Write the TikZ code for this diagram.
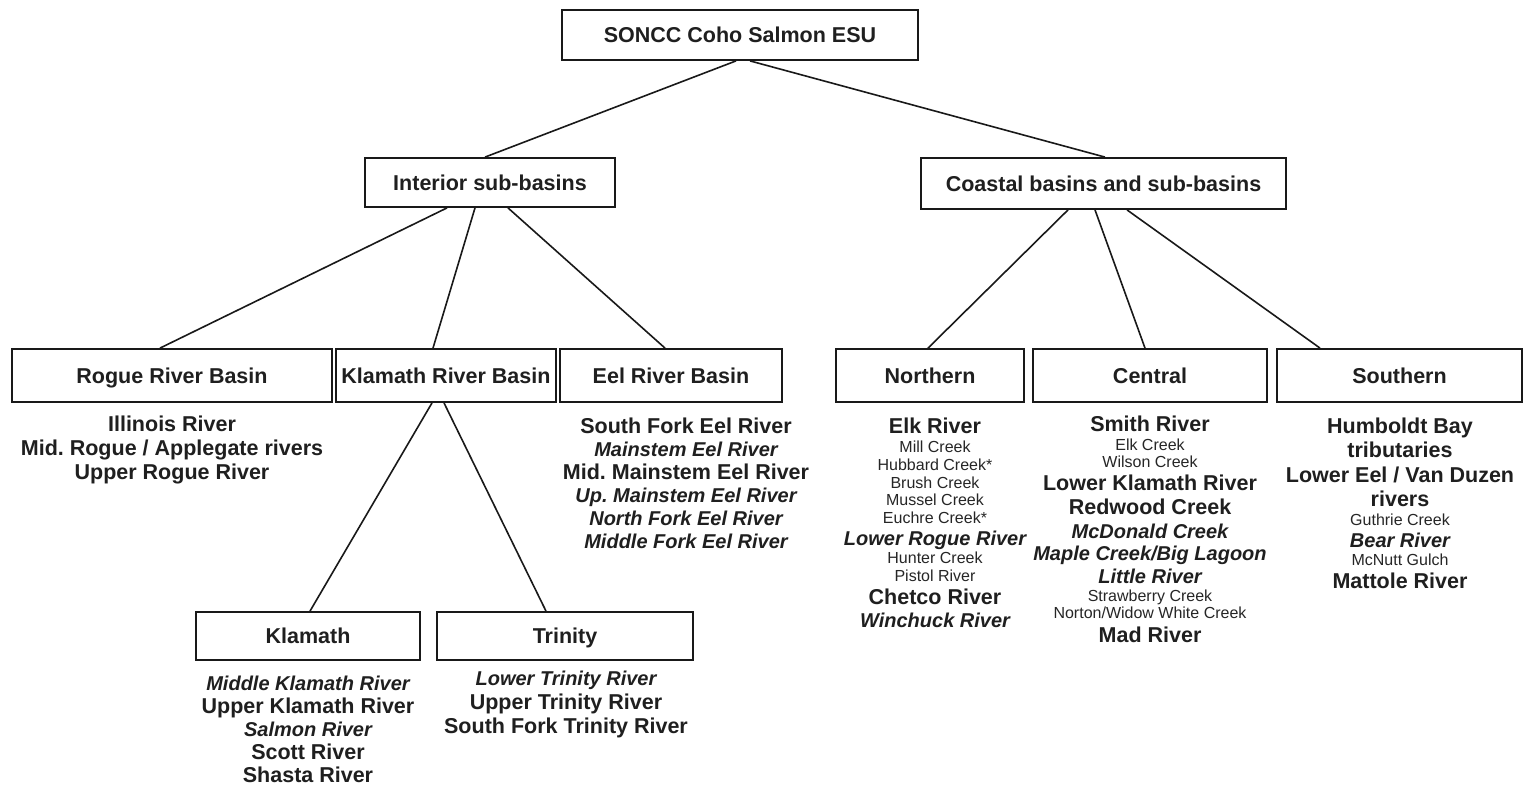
\documentclass[tikz,border=0pt]{standalone}
\usepackage{fontspec}
\setmainfont{Liberation Sans}
\frenchspacing
\begin{document}
\frenchspacing
\begin{tikzpicture}[x=1pt,y=-1pt,
  box/.style={draw=black!90, line width=1.8pt, inner sep=0pt, text=black!88,
    text height=15.4pt, text depth=0pt,
    font=\fontsize{21.5}{24}\selectfont\bfseries},
  conn/.style={draw=black!90, line width=1.6pt},
  big/.style={inner sep=0pt, text=black!88, text height=15.4pt, text depth=0pt,
    font=\fontsize{21.5}{24}\selectfont\bfseries},
  ita/.style={inner sep=0pt, text=black!88, text height=14.3pt, text depth=0pt,
    font=\fontsize{20}{24}\selectfont\bfseries\itshape},
  sm/.style={inner sep=0pt, text=black!85, text height=11.5pt, text depth=0pt,
    font=\fontsize{16}{18}\selectfont}]
\useasboundingbox[fill=white] (0,0) rectangle (1528,788);

% boxes
\node[box, minimum width=356pt, minimum height=50pt] (top) at (740,35) {SONCC Coho Salmon ESU};
\node[box, minimum width=250pt, minimum height=49pt] (int) at (490,182.5) {Interior sub-basins};
\node[box, minimum width=365pt, minimum height=51pt] (coast) at (1103.5,183.5) {Coastal basins and sub-basins};
\node[box, minimum width=320pt, minimum height=53pt] (rogue) at (172,375.5) {Rogue River Basin};
\node[box, minimum width=220pt, minimum height=53pt] (krb) at (446,375.5) {Klamath River Basin};
\node[box, minimum width=222pt, minimum height=53pt] (eel) at (671,375.5) {Eel River Basin};
\node[box, minimum width=188pt, minimum height=53pt] (north) at (930,375.5) {Northern};
\node[box, minimum width=234pt, minimum height=53pt] (central) at (1150,375.5) {Central};
\node[box, minimum width=245pt, minimum height=53pt] (south) at (1399.5,375.5) {Southern};
\node[box, minimum width=224pt, minimum height=48pt] (klam) at (308,636) {Klamath};
\node[box, minimum width=256pt, minimum height=48pt] (trin) at (565,636) {Trinity};

% connectors
\draw[conn] ([xshift=-4pt]top.south) -- ([xshift=-5pt]int.north);
\draw[conn] ([xshift=10pt]top.south) -- ([xshift=1.5pt]coast.north);
\draw[conn] ([xshift=-43pt]int.south) -- ([xshift=-12pt]rogue.north);
\draw[conn] ([xshift=-15pt]int.south) -- ([xshift=-13pt]krb.north);
\draw[conn] ([xshift=18pt]int.south) -- ([xshift=-6pt]eel.north);
\draw[conn] ([xshift=-35.5pt]coast.south) -- ([xshift=-2pt]north.north);
\draw[conn] ([xshift=-8.5pt]coast.south) -- ([xshift=-5pt]central.north);
\draw[conn] ([xshift=23.5pt]coast.south) -- ([xshift=-79.5pt]south.north);
\draw[conn] ([xshift=-14pt]krb.south) -- ([xshift=2pt]klam.north);
\draw[conn] ([xshift=-2pt]krb.south) -- ([xshift=-19pt]trin.north);

% Rogue list
\node[big] (r1) at (172,424) {Illinois River};
\node[big] (r2) at (172,448) {Mid. Rogue / Applegate rivers};
\node[big] (r3) at (172,472) {Upper Rogue River};

% Eel list
\node[big] (e1) at (686,426) {South Fork Eel River};
\node[ita] (e2) at (686,449) {Mainstem Eel River};
\node[big] (e3) at (686,472) {Mid. Mainstem Eel River};
\node[ita] (e4) at (686,495) {Up. Mainstem Eel River};
\node[ita] (e5) at (686,518) {North Fork Eel River};
\node[ita] (e6) at (686,541) {Middle Fork Eel River};

% Northern list
\node[big] (n1) at (935,426) {Elk River};
\node[sm] (n2) at (935,447) {Mill Creek};
\node[sm] (n3) at (935,465) {Hubbard Creek*};
\node[sm] (n4) at (935,483) {Brush Creek};
\node[sm] (n5) at (935,500) {Mussel Creek};
\node[sm] (n6) at (935,518) {Euchre Creek*};
\node[ita] (n7) at (935,538) {Lower Rogue River};
\node[sm] (n8) at (935,558) {Hunter Creek};
\node[sm] (n9) at (935,576) {Pistol River};
\node[big] (n10) at (935,597) {Chetco River};
\node[ita] (n11) at (935,620) {Winchuck River};

% Central list
\node[big] (c1) at (1150,424) {Smith River};
\node[sm] (c2) at (1150,445) {Elk Creek};
\node[sm] (c3) at (1150,462) {Wilson Creek};
\node[big] (c4) at (1150,483) {Lower Klamath River};
\node[big] (c5) at (1150,507) {Redwood Creek};
\node[ita] (c6) at (1150,531) {McDonald Creek};
\node[ita] (c7) at (1150,553) {Maple Creek/Big Lagoon};
\node[ita] (c8) at (1150,576) {Little River};
\node[sm] (c9) at (1150,596) {Strawberry Creek};
\node[sm] (c10) at (1150,613) {Norton/Widow White Creek};
\node[big] (c11) at (1150,635) {Mad River};

% Southern list
\node[big] (s1) at (1400,426) {Humboldt Bay};
\node[big] (s2) at (1400,450) {tributaries};
\node[big] (s3) at (1400,475) {Lower Eel / Van Duzen};
\node[big] (s4) at (1400,499) {rivers};
\node[sm] (s5) at (1400,520) {Guthrie Creek};
\node[ita] (s6) at (1400,540) {Bear River};
\node[sm] (s7) at (1400,560) {McNutt Gulch};
\node[big] (s8) at (1400,581) {Mattole River};

% Klamath list
\node[ita] (k1) at (308,683) {Middle Klamath River};
\node[big] (k2) at (308,706) {Upper Klamath River};
\node[ita] (k3) at (308,729) {Salmon River};
\node[big] (k4) at (308,752) {Scott River};
\node[big] (k5) at (308,775) {Shasta River};

% Trinity list
\node[ita] (t1) at (566,678) {Lower Trinity River};
\node[big] (t2) at (566,702) {Upper Trinity River};
\node[big] (t3) at (566,726) {South Fork Trinity River};
\end{tikzpicture}
\end{document}
